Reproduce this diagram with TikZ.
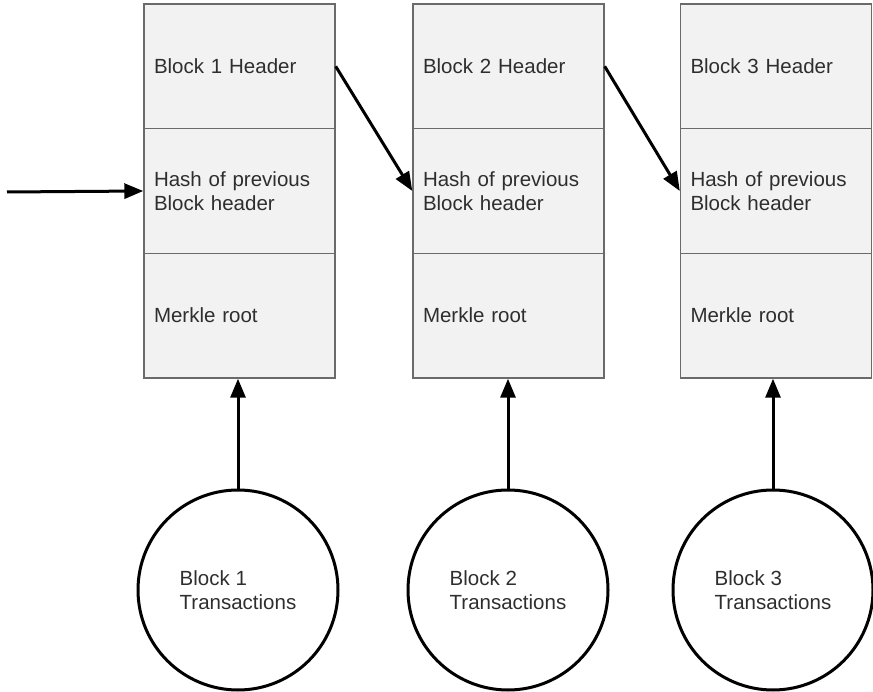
\documentclass[tikz,border=0pt]{standalone}
\usepackage{fontspec}
\setmainfont{Liberation Sans}
\usetikzlibrary{arrows.meta}
\definecolor{boxfill}{HTML}{F2F2F2}
\definecolor{boxline}{HTML}{6A6A6A}
\definecolor{txt}{HTML}{2E2E2E}
\tikzset{
  cell/.style={draw=boxline, fill=boxfill, line width=1.4pt, rectangle,
    minimum width=191pt, minimum height=124.67pt, text width=171pt,
    inner xsep=10pt, inner ysep=0pt, align=left, text=txt,
    font=\fontsize{20.5pt}{24pt}\selectfont},
  txcircle/.style={draw=black, line width=3pt, circle, minimum size=200pt,
    inner sep=0pt, align=left, text=txt,
    font=\fontsize{20.5pt}{24.5pt}\selectfont},
  link/.style={line width=3pt, -{Triangle[length=19pt,width=15pt]}}
}
\begin{document}
\begin{tikzpicture}[x=1pt,y=-1pt]
\useasboundingbox (0,0) rectangle (873,692);
% blocks
\foreach \i/\cx in {1/239.5, 2/508.5, 3/776} {
  \node[cell] (h\i) at (\cx, 66.33) {Block \i{} Header};
  \node[cell] (p\i) at (\cx, 191) {Hash of previous\\Block header};
  \node[cell] (m\i) at (\cx, 315.67) {Merkle root};
}
% transactions
\node[txcircle] (c1) at (238,590) {Block 1\\Transactions};
\node[txcircle] (c2) at (508,590) {Block 2\\Transactions};
\node[txcircle] (c3) at (773,590) {Block 3\\Transactions};
% arrows
\coordinate (in) at (7,192);
\draw[link] (in) -- (p1.west);
\draw[link] (h1.east) -- (p2.west);
\draw[link] (h2.east) -- (p3.west);
\draw[link] (c1.north) -- (c1.north |- m1.south);
\draw[link] (c2.north) -- (c2.north |- m2.south);
\draw[link] (c3.north) -- (c3.north |- m3.south);
\end{tikzpicture}
\end{document}
